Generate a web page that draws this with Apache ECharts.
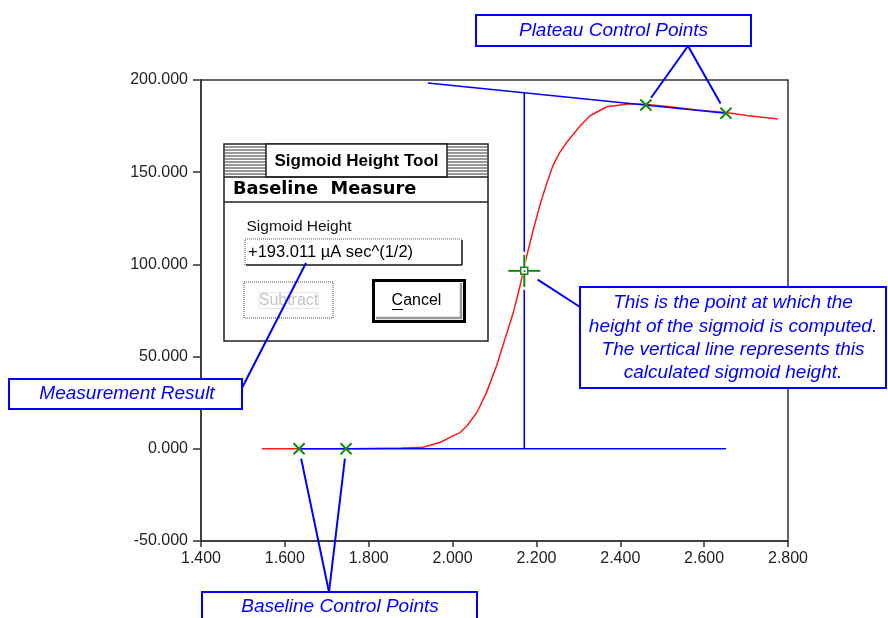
<!DOCTYPE html>
<html>
<head>
<meta charset="utf-8">
<script src="https://cdn.jsdelivr.net/npm/echarts@6/dist/echarts.min.js"></script>
<style>
  html, body { margin: 0; padding: 0; background: #fff; }
  #chart { width: 888px; height: 618px; }
</style>
</head>
<body>
<div id="chart"></div>
<script>
// Measured sigmoid trace
const curveX = [1.545, 1.636, 1.755, 1.879, 1.929, 1.970, 2.001, 2.018, 2.034, 2.058, 2.081, 2.105,
                2.125, 2.145, 2.161, 2.177, 2.193, 2.208, 2.226, 2.239, 2.255, 2.273, 2.304, 2.328,
                2.368, 2.423, 2.464, 2.519, 2.583, 2.655, 2.702, 2.776];
const curveY = [0, 0, 0, 0.5, 0.8, 3.4, 7.0, 8.8, 12.4, 19.7, 30.6, 45.0,
                59.5, 74.0, 88.4, 104.7, 119.2, 131.9, 145.0, 153.4, 160.5, 166.4, 175.1, 180.6,
                185.5, 187.1, 186.7, 185.5, 183.8, 182.2, 180.7, 178.9];

// Control points chosen on the baseline and on the plateau
const baselineCtrlX = [1.634, 1.746];
const baselineCtrlY = [0, 0];
const plateauCtrlX = [2.461, 2.652];
const plateauCtrlY = [186.4, 182.0];

// Fitted baseline and plateau lines
const baselineLineX = [1.634, 2.652];
const baselineLineY = [0, 0];
const plateauLineX = [1.941, 2.652];
const plateauLineY = [198.4, 182.0];

// Point where the height is measured, and the resulting height
const measureX = 2.171;
const sigmoidHeight = 193.011;

// Axis ticks
const xTicks = [1.4, 1.6, 1.8, 2.0, 2.2, 2.4, 2.6, 2.8];
const yTicks = [-50, 0, 50, 100, 150, 200];

const BLUE = '#0000ff';
const GREEN = '#148a14';
const RED = '#ff1a1a';
const AXIS = '#333';
const FONT = '"Liberation Sans", Arial, sans-serif';

const zip = (xs, ys) => xs.map((x, i) => [x, ys[i]]);

const chart = echarts.init(document.getElementById('chart'), null, { renderer: 'canvas' });

const crossMarker = function (params, api) {
  const p = api.coord([api.value(0), api.value(1)]);
  const s = 5.5;
  const st = { stroke: GREEN, lineWidth: 2 };
  return {
    type: 'group',
    children: [
      { type: 'line', shape: { x1: p[0] - s, y1: p[1] - s, x2: p[0] + s, y2: p[1] + s }, style: st },
      { type: 'line', shape: { x1: p[0] - s, y1: p[1] + s, x2: p[0] + s, y2: p[1] - s }, style: st }
    ]
  };
};

const crosshair = function (params, api) {
  const p = api.coord([api.value(0), api.value(1)]);
  const a = 16, g = 4;
  const st = { stroke: GREEN, lineWidth: 2 };
  const wst = { stroke: '#fff', lineWidth: 3 };
  return {
    type: 'group',
    children: [
      { type: 'line', shape: { x1: p[0], y1: p[1] - a - 3, x2: p[0], y2: p[1] + a + 3 }, style: wst },
      { type: 'line', shape: { x1: p[0] - a, y1: p[1], x2: p[0] - g, y2: p[1] }, style: st },
      { type: 'line', shape: { x1: p[0] + g, y1: p[1], x2: p[0] + a, y2: p[1] }, style: st },
      { type: 'line', shape: { x1: p[0], y1: p[1] - a, x2: p[0], y2: p[1] - g }, style: st },
      { type: 'line', shape: { x1: p[0], y1: p[1] + g, x2: p[0], y2: p[1] + a }, style: st },
      { type: 'rect', shape: { x: p[0] - 3.5, y: p[1] - 3.5, width: 7, height: 7 }, style: { stroke: GREEN, fill: '#fff', lineWidth: 1.5 } },
      { type: 'rect', shape: { x: p[0] - 0.5, y: p[1] - 0.5, width: 1.5, height: 1.5 }, style: { fill: BLUE } }
    ]
  };
};

chart.setOption({
  animation: false,
  backgroundColor: '#fff',
  grid: { left: 201, top: 80, width: 587, height: 461, show: true, borderColor: AXIS, borderWidth: 1.5 },
  xAxis: {
    type: 'value',
    min: xTicks[0], max: xTicks[xTicks.length - 1], interval: 0.2,
    axisLine: { show: true, onZero: false, lineStyle: { color: AXIS, width: 1.5 } },
    axisTick: { show: true, length: 6, lineStyle: { color: AXIS, width: 1.5 } },
    splitLine: { show: false },
    axisLabel: { margin: 10, color: '#222', fontFamily: FONT, fontSize: 16, formatter: v => v.toFixed(3) }
  },
  yAxis: {
    type: 'value',
    min: yTicks[0], max: yTicks[yTicks.length - 1], interval: 50,
    axisLine: { show: true, onZero: false, lineStyle: { color: AXIS, width: 1.5 } },
    axisTick: { show: true, length: 8, lineStyle: { color: AXIS, width: 1.5 } },
    splitLine: { show: false },
    axisLabel: { margin: 13, color: '#222', fontFamily: FONT, fontSize: 16, formatter: v => v.toFixed(3) }
  },
  series: [
    { type: 'line', data: zip(curveX, curveY), symbol: 'none', lineStyle: { color: RED, width: 1.5 }, z: 2 },
    { type: 'line', data: zip(baselineLineX, baselineLineY), symbol: 'none', lineStyle: { color: BLUE, width: 1.6 }, z: 3 },
    { type: 'line', data: zip(plateauLineX, plateauLineY), symbol: 'none', lineStyle: { color: BLUE, width: 1.6 }, z: 3 },
    { type: 'line', data: [[measureX, 0], [measureX, sigmoidHeight]], symbol: 'none', lineStyle: { color: BLUE, width: 1.6 }, z: 3 },
    { type: 'custom', renderItem: crossMarker, data: zip(baselineCtrlX, baselineCtrlY).concat(zip(plateauCtrlX, plateauCtrlY)), z: 5 },
    { type: 'custom', renderItem: crosshair, data: [[measureX, sigmoidHeight / 2]], z: 5 }
  ]
});

// Annotation callouts and the tool dialog
const px = (x, y) => chart.convertToPixel({ gridIndex: 0 }, [x, y]);
// pull a leader line end back from a point towards its anchor
const shorten = (from, to, d) => {
  const dx = from[0] - to[0], dy = from[1] - to[1];
  const len = Math.hypot(dx, dy);
  return [to[0] + dx / len * d, to[1] + dy / len * d];
};
const leader = (a, b) => ({ type: 'line', z: 60, shape: { x1: a[0], y1: a[1], x2: b[0], y2: b[1] }, style: { stroke: BLUE, lineWidth: 2 } });
const box = (x, y, w, h) => ({ type: 'rect', z: 60, shape: { x, y, width: w, height: h }, style: { fill: '#fff', stroke: BLUE, lineWidth: 2 } });
const note = (x, y, text, lh) => ({
  type: 'text', z: 61, x, y,
  style: { text, fill: BLUE, fontFamily: FONT, fontStyle: 'italic', fontSize: 19, textAlign: 'center', textVerticalAlign: 'middle', lineHeight: lh || 23.3 }
});

const g = [];
// Plateau callout
const plateauAnchor = [688, 46];
g.push(leader(plateauAnchor, shorten(plateauAnchor, px(plateauCtrlX[0], plateauCtrlY[0]), 9)));
g.push(leader(plateauAnchor, shorten(plateauAnchor, px(plateauCtrlX[1], plateauCtrlY[1]), 11)));
g.push(box(476, 15, 275, 31));
g.push(note(613.5, 31, 'Plateau Control Points'));

// Baseline callout
const baseAnchor = [329, 592];
g.push(leader(baseAnchor, shorten(baseAnchor, px(baselineCtrlX[0], baselineCtrlY[0]), 10)));
g.push(leader(baseAnchor, shorten(baseAnchor, px(baselineCtrlX[1], baselineCtrlY[1]), 10)));
g.push(box(202, 592, 275, 40));
g.push(note(340, 607, 'Baseline Control Points'));

// Measurement point callout
const sigAnchor = [580, 307];
g.push(leader(sigAnchor, shorten(sigAnchor, px(measureX, sigmoidHeight / 2), 16)));
g.push(box(580, 287, 306, 101));
g.push(note(733, 338, 'This is the point at which the\nheight of the sigmoid is computed.\nThe vertical line represents this\ncalculated sigmoid height.'));

// Dialog window
const D = [224, 144];
const dlg = [];
dlg.push({ type: 'rect', shape: { x: 0, y: 0, width: 264, height: 197 }, style: { fill: '#fff', stroke: '#222', lineWidth: 1.5 } });
for (let y = 3; y <= 30; y += 3) {
  dlg.push({ type: 'line', shape: { x1: 1, y1: y, x2: 42, y2: y }, style: { stroke: '#333', lineWidth: 1 } });
  dlg.push({ type: 'line', shape: { x1: 223, y1: y, x2: 263, y2: y }, style: { stroke: '#333', lineWidth: 1 } });
}
dlg.push({ type: 'rect', shape: { x: 42, y: 0, width: 181, height: 33 }, style: { fill: '#fff', stroke: '#222', lineWidth: 1.5 } });
dlg.push({ type: 'text', x: 132.5, y: 17, style: { text: 'Sigmoid Height Tool', fill: '#000', fontFamily: FONT, fontWeight: 'bold', fontSize: 17, textAlign: 'center', textVerticalAlign: 'middle' } });
dlg.push({ type: 'line', shape: { x1: 0, y1: 33, x2: 264, y2: 33 }, style: { stroke: '#222', lineWidth: 1.5 } });
dlg.push({ type: 'text', x: 9, y: 45.5, style: { text: 'Baseline  Measure', fill: '#000', fontFamily: '"DejaVu Sans", sans-serif', fontWeight: 'bold', fontSize: 17.8, textAlign: 'left', textVerticalAlign: 'middle' } });
dlg.push({ type: 'line', shape: { x1: 0, y1: 58, x2: 264, y2: 58 }, style: { stroke: '#222', lineWidth: 1.5 } });
dlg.push({ type: 'text', x: 22.5, y: 82.5, style: { text: 'Sigmoid Height', fill: '#111', fontFamily: FONT, fontSize: 15.5, textAlign: 'left', textVerticalAlign: 'middle' } });
// value field
dlg.push({ type: 'rect', shape: { x: 21, y: 95, width: 217, height: 26 }, style: { fill: '#fff', stroke: '#555', lineWidth: 1, lineDash: [1, 1] } });
dlg.push({ type: 'line', shape: { x1: 238, y1: 96, x2: 238, y2: 121 }, style: { stroke: '#222', lineWidth: 1.5 } });
dlg.push({ type: 'line', shape: { x1: 22, y1: 121, x2: 238, y2: 121 }, style: { stroke: '#222', lineWidth: 1.5 } });
dlg.push({ type: 'text', x: 24, y: 108.5, style: { text: '+193.011 \u00b5A sec^(1/2)', fill: '#000', fontFamily: FONT, fontSize: 16.5, textAlign: 'left', textVerticalAlign: 'middle' } });
// disabled button
dlg.push({ type: 'rect', shape: { x: 20, y: 138, width: 89, height: 36 }, style: { fill: '#fff', stroke: '#888', lineWidth: 1.5, lineDash: [1, 1] } });
dlg.push({ type: 'text', x: 64.5, y: 156.5, style: { text: 'Subtract', fill: '#c4c4c4', fontFamily: FONT, fontSize: 16, textAlign: 'center', textVerticalAlign: 'middle', textBorderColor: '#e6e6e6', textBorderWidth: 1 } });
// default button
dlg.push({ type: 'rect', shape: { x: 149.5, y: 136.5, width: 91, height: 41 }, style: { fill: '#fff', stroke: '#000', lineWidth: 3 } });
dlg.push({ type: 'polyline', shape: { points: [[152, 174], [237, 174], [237, 139]] }, style: { stroke: '#999', lineWidth: 2.5, fill: null } });
dlg.push({ type: 'text', x: 192.5, y: 156.5, style: { text: 'Cancel', fill: '#000', fontFamily: FONT, fontSize: 16, textAlign: 'center', textVerticalAlign: 'middle' } });
dlg.push({ type: 'line', shape: { x1: 168, y1: 165.5, x2: 179, y2: 165.5 }, style: { stroke: '#000', lineWidth: 1 } });
g.push({ type: 'group', x: D[0], y: D[1], z: 50, children: dlg });

// Measurement result callout (points at the value field)
const resAnchor = [242, 388];
g.push(leader(resAnchor, [306, 263]));
g.push(box(9, 379, 233, 30));
g.push(note(127, 394, 'Measurement Result'));

chart.setOption({ graphic: g });
</script>
</body>
</html>
